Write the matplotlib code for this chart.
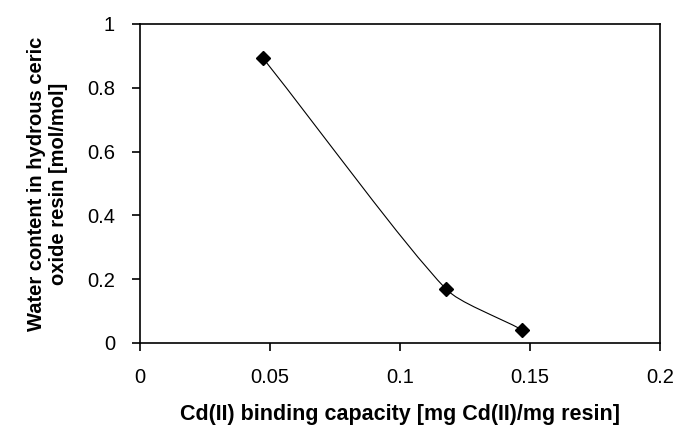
import numpy as np
import matplotlib.pyplot as plt
from matplotlib.path import Path
from matplotlib.patches import PathPatch

plt.rcParams['font.family'] = ['Liberation Sans', 'DejaVu Sans']

# Datos
capacidad = [0.0473, 0.1177, 0.147]
agua = [0.893, 0.169, 0.041]

x_ticks = [0, 0.05, 0.1, 0.15, 0.2]
x_labels = ['0', '0.05', '0.1', '0.15', '0.2']
y_ticks = [0, 0.2, 0.4, 0.6, 0.8, 1]
y_labels = ['0', '0.2', '0.4', '0.6', '0.8', '1']

fig = plt.figure(figsize=(6.78, 4.28), dpi=100)
ax = fig.add_axes([0.2065, 0.1986, 0.767, 0.7454])
ax.set_xlim(0, 0.2)
ax.set_ylim(0, 1)

# Linea suavizada (Bezier estilo Excel), calculada en escala de pantalla
sx, sy = 520 / 0.2, 319 / 1.0
pts = np.column_stack([np.array(capacidad) * sx, np.array(agua) * sy])
n = len(pts)
tension = 0.22


def tangente(i):
    # direccion de la tangente en el punto i
    if i == 0:
        return pts[1] - pts[0], None
    if i == n - 1:
        return pts[-1] - pts[-2], None
    d0 = np.linalg.norm(pts[i] - pts[i - 1])
    d1 = np.linalg.norm(pts[i + 1] - pts[i])
    return pts[i + 1] - pts[i - 1], (d0, d1)


verts = [pts[0]]
codes = [Path.MOVETO]
for i in range(n - 1):
    p1, p2 = pts[i], pts[i + 1]
    v1, d1 = tangente(i)
    v2, d2 = tangente(i + 1)
    c1 = p1 + (v1 / 3 if d1 is None else tension * v1 * d1[1] / sum(d1))
    c2 = p2 - (v2 / 3 if d2 is None else tension * v2 * d2[0] / sum(d2))
    verts += [c1, c2, p2]
    codes += [Path.CURVE4] * 3
verts = np.array(verts) / [sx, sy]
ax.add_patch(PathPatch(Path(verts, codes), facecolor='none', edgecolor='black', lw=0.8))

ax.plot(capacidad, agua, linestyle='none', marker='D', color='black', markersize=7.5)

ax.set_xticks(x_ticks)
ax.set_xticklabels(x_labels, fontsize=14.5)
ax.set_yticks(y_ticks)
ax.set_yticklabels(y_labels, fontsize=14.5)
ax.tick_params(direction='out', length=6, width=1.2, pad=12)
for s in ax.spines.values():
    s.set_linewidth(1.2)

ax.set_xlabel('Cd(II) binding capacity [mg Cd(II)/mg resin]', fontsize=15.5, fontweight='bold', labelpad=12)
ax.set_ylabel('Water content in hydrous ceric\noxide resin [mol/mol]', fontsize=14.5, fontweight='bold', labelpad=14)

fig.savefig('out.png', dpi=100)
